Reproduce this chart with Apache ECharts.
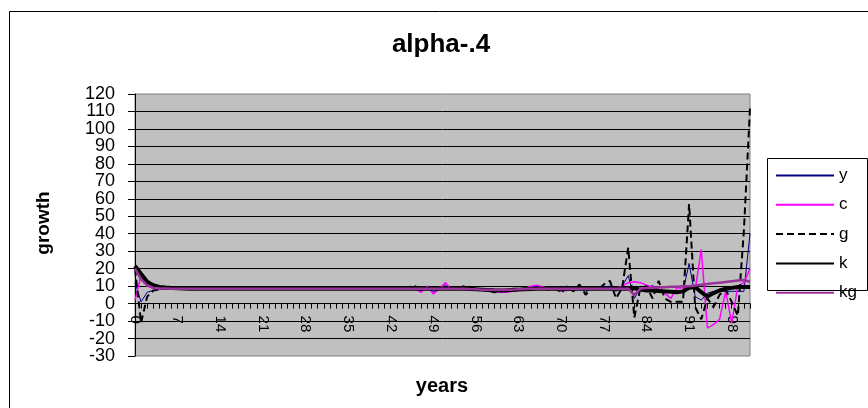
<!DOCTYPE html>
<html>
<head>
<meta charset="utf-8">
<script src="https://cdn.jsdelivr.net/npm/echarts@6/dist/echarts.min.js"></script>
<style>
  html, body { margin: 0; padding: 0; background: #fff; }
  #chart { width: 868px; height: 408px; }
</style>
</head>
<body>
<div id="chart"></div>
<script>
// Years on the category axis
const years = [
  0, 1, 2, 3, 4, 5, 6, 7, 8, 9,
  10, 11, 12, 13, 14, 15, 16, 17, 18, 19,
  20, 21, 22, 23, 24, 25, 26, 27, 28, 29,
  30, 31, 32, 33, 34, 35, 36, 37, 38, 39,
  40, 41, 42, 43, 44, 45, 46, 47, 48, 49,
  50, 51, 52, 53, 54, 55, 56, 57, 58, 59,
  60, 61, 62, 63, 64, 65, 66, 67, 68, 69,
  70, 71, 72, 73, 74, 75, 76, 77, 78, 79,
  80, 81, 82, 83, 84, 85, 86, 87, 88, 89,
  90, 91, 92, 93, 94, 95, 96, 97, 98, 99,
  100, 101
];

// Tick labels of the growth axis
const growthTicks = [-30, -20, -10, 0, 10, 20, 30, 40, 50, 60, 70, 80, 90, 100, 110, 120];

// Growth rates per series
const ySeries = [
  12, 1, 6.5, 7.5, 8, 8.3, 8.4, 8.5, 8.5, 8.5,
  8.5, 8.5, 8.5, 8.5, 8.5, 8.5, 8.5, 8.5, 8.5, 8.5,
  8.5, 8.5, 8.5, 8.5, 8.5, 8.5, 8.5, 8.5, 8.5, 8.5,
  8.5, 8.5, 8.5, 8.5, 8.5, 8.5, 8.5, 8.5, 8.5, 8.5,
  8.5, 8.5, 8.5, 8.5, 8.5, 8.8, 9, 7.5, 9.5, 6.5,
  8.5, 10.5, 8, 8.5, 9, 8.8, 8.3, 8, 7.8, 7.5,
  7.3, 7.5, 7.8, 8, 8.5, 9.5, 10, 9.5, 8.5, 9,
  7, 10, 7.5, 9.5, 6.5, 9, 8, 9.5, 10, 7,
  10, 16, 3, 9, 8, 10.5, 7, 6.5, 6.5, 6.5,
  7, 23, 4, 2, 6, 7, 7, 7, 7, 7,
  7, 40
];

const cSeries = [
  2, 16, 10, 8.8, 8.5, 8.4, 8.4, 8.4, 8.4, 8.4,
  8.4, 8.4, 8.4, 8.4, 8.4, 8.4, 8.4, 8.4, 8.4, 8.4,
  8.4, 8.4, 8.4, 8.4, 8.4, 8.4, 8.4, 8.4, 8.4, 8.4,
  8.4, 8.4, 8.4, 8.4, 8.4, 8.4, 8.4, 8.4, 8.4, 8.4,
  8.4, 8.4, 8.4, 8.4, 8.4, 8.5, 8.5, 6.5, 10, 5.5,
  8.5, 12, 8, 8.5, 8.5, 8.2, 8, 7.5, 7, 7,
  6.5, 6.5, 7, 7.5, 8.5, 10, 10.5, 9.5, 8.5, 8,
  7.5, 7.5, 8.5, 9, 8.5, 8, 8.5, 9, 8.5, 9,
  10, 12, 12.5, 12, 10.5, 9.5, 8.5, 6, 3, 9,
  9, 9.5, 8, 31, -14, -12, -9, 7, -11, 10,
  12, 20
];

const gSeries = [
  20, -11, 4, 7.5, 8.2, 8.4, 8.5, 8.5, 8.5, 8.5,
  8.5, 8.5, 8.5, 8.5, 8.5, 8.5, 8.5, 8.5, 8.5, 8.5,
  8.5, 8.5, 8.5, 8.5, 8.5, 8.5, 8.5, 8.5, 8.5, 8.5,
  8.5, 8.5, 8.5, 8.5, 8.5, 8.5, 8.5, 8.5, 8.5, 8.5,
  8.5, 8.5, 8.5, 8.5, 8.5, 9.5, 10, 8, 8.5, 8.5,
  8.5, 8.5, 8.5, 8.5, 10, 9.5, 8.5, 8, 7.5, 6.5,
  7, 8, 8.5, 8.5, 8.5, 8.5, 8.5, 8.5, 8, 9.5,
  6, 10, 7, 11, 5, 9, 8, 11, 13, 3,
  9, 32, -8, 9, 10, 3, 13, 3, 1, 1,
  1, 57, -2, -9, 3, -2, 5, 8, 1, -7,
  42, 112
];

const kSeries = [
  21.5, 17, 12.5, 10.5, 9.5, 9.2, 9, 8.8, 8.6, 8.5,
  8.5, 8.5, 8.5, 8.5, 8.5, 8.5, 8.5, 8.5, 8.5, 8.5,
  8.5, 8.5, 8.5, 8.5, 8.5, 8.5, 8.5, 8.5, 8.5, 8.5,
  8.5, 8.5, 8.5, 8.5, 8.5, 8.5, 8.5, 8.5, 8.5, 8.5,
  8.5, 8.5, 8.5, 8.5, 8.5, 8.5, 8.5, 8.5, 8.5, 8.5,
  8.5, 8.5, 8.5, 8.5, 8.5, 8.3, 8.2, 8, 7.8, 7.6,
  7.5, 7.6, 7.8, 8, 8.2, 8.4, 8.5, 8.5, 8.5, 8.5,
  8.5, 8.5, 8.5, 8.5, 8.5, 8.5, 8.5, 8.5, 8.5, 8.5,
  8.5, 8.5, 8.8, 8, 7.5, 7.5, 7.2, 7, 6.8, 6.5,
  7, 9, 9.5, 6.5, 4, 6, 7.5, 8.5, 9, 9.5,
  9.5, 9.5
];

const kgSeries = [
  20, 14, 10.5, 9, 8.7, 8.6, 8.5, 8.5, 8.5, 8.5,
  8.5, 8.5, 8.5, 8.5, 8.5, 8.5, 8.5, 8.5, 8.5, 8.5,
  8.5, 8.5, 8.5, 8.5, 8.5, 8.5, 8.5, 8.5, 8.5, 8.5,
  8.5, 8.5, 8.5, 8.5, 8.5, 8.5, 8.5, 8.5, 8.5, 8.5,
  8.5, 8.5, 8.5, 8.5, 8.5, 8.5, 8.5, 8.5, 8.5, 8.5,
  8.5, 8.5, 8.5, 8.5, 8.5, 8.3, 8.2, 8, 7.9, 7.8,
  7.8, 7.9, 8, 8.2, 8.3, 8.5, 8.5, 8.5, 8.5, 8.5,
  8.5, 8.5, 8.5, 8.5, 8.5, 8.5, 8.5, 8.5, 8.5, 8.5,
  8.5, 8.5, 5, 8.5, 9, 9.1, 9.3, 9.4, 9.6, 9.7,
  9.9, 10, 10.4, 10.8, 11.2, 11.6, 12, 12.4, 12.8, 13.2,
  13.5, 12.5
];

const seriesNames = ['y', 'c', 'g', 'k', 'kg'];

const FONT = '"Liberation Sans", Arial, sans-serif';
const GRID = { left: 135, top: 94, width: 615, height: 262 };

const chart = echarts.init(document.getElementById('chart'), null, { renderer: 'canvas' });

function lineSeries(name, data, lineStyle) {
  return {
    name: name,
    type: 'line',
    data: data,
    symbol: 'none',
    showSymbol: false,
    smooth: false,
    lineStyle: lineStyle,
    itemStyle: { color: lineStyle.color },
    emphasis: { disabled: true }
  };
}

const staticGraphics = [
  {
    type: 'rect',
    silent: true,
    z: 0,
    shape: { x: 9.5, y: 11.5, width: 900, height: 500 },
    style: { fill: 'none', stroke: '#000000', lineWidth: 1 }
  },
  {
    type: 'rect',
    silent: true,
    z: 1,
    shape: { x: 767.5, y: 158.5, width: 100, height: 132 },
    style: { fill: '#ffffff', stroke: '#000000', lineWidth: 1 }
  },
  {
    type: 'text',
    silent: true,
    x: 441,
    y: 45,
    style: {
      text: 'alpha-.4',
      font: 'bold 26px ' + FONT,
      fill: '#000000',
      align: 'center',
      verticalAlign: 'middle'
    }
  },
  {
    type: 'text',
    silent: true,
    x: 442,
    y: 386,
    style: {
      text: 'years',
      font: 'bold 20px ' + FONT,
      fill: '#000000',
      align: 'center',
      verticalAlign: 'middle'
    }
  },
  {
    type: 'text',
    silent: true,
    x: 44,
    y: 223,
    rotation: Math.PI / 2,
    style: {
      text: 'growth',
      font: 'bold 19px ' + FONT,
      fill: '#000000',
      align: 'center',
      verticalAlign: 'middle'
    }
  }
];

chart.setOption({
  animation: false,
  backgroundColor: '#ffffff',
  textStyle: { fontFamily: FONT },
  grid: {
    left: GRID.left,
    top: GRID.top,
    width: GRID.width,
    height: GRID.height,
    show: true,
    backgroundColor: '#c0c0c0',
    borderColor: '#808080',
    borderWidth: 1,
    containLabel: false,
    outerBoundsMode: 'none'
  },
  xAxis: {
    type: 'category',
    data: years,
    boundaryGap: false,
    offset: 0,
    axisLine: { show: true, onZero: false, lineStyle: { color: '#000000', width: 1 } },
    axisTick: { show: true, interval: 0, length: 5, inside: false, lineStyle: { color: '#000000', width: 1 } },
    axisLabel: {
      interval: 6,
      rotate: -90,
      margin: 12,
      fontSize: 15,
      color: '#000000',
      fontFamily: FONT,
      hideOverlap: false
    },
    splitLine: { show: false }
  },
  yAxis: {
    type: 'value',
    min: growthTicks[0],
    max: growthTicks[growthTicks.length - 1],
    interval: 10,
    axisLine: { show: true, lineStyle: { color: '#000000', width: 1 } },
    axisTick: { show: true, length: 7, inside: false, lineStyle: { color: '#000000', width: 1 } },
    axisLabel: { show: false },
    splitLine: {
      show: true,
      showMinLine: false,
      showMaxLine: false,
      lineStyle: { color: '#000000', width: 1 }
    }
  },
  legend: {
    data: seriesNames,
    orient: 'vertical',
    left: 775,
    top: 167,
    padding: 0,
    itemWidth: 58,
    itemHeight: 14,
    itemGap: 12.3,
    selectedMode: false,
    itemStyle: { opacity: 0 },
    textStyle: { fontSize: 17, color: '#000000', fontFamily: FONT }
  },
  graphic: staticGraphics,
  series: [
    lineSeries('y', ySeries, { color: '#000080', width: 1 }),
    lineSeries('c', cSeries, { color: '#ff00ff', width: 1.5 }),
    lineSeries('g', gSeries, { color: '#000000', width: 2, type: [7, 4] }),
    lineSeries('k', kSeries, { color: '#000000', width: 4 }),
    lineSeries('kg', kgSeries, { color: '#993399', width: 2.5 })
  ]
});

// The category axis (line, ticks and labels) sits on the value-axis zero line.
const zeroY = chart.convertToPixel({ yAxisIndex: 0 }, 0);
const gridBottom = GRID.top + GRID.height;

// Growth tick labels, placed through the value axis so every one is kept.
const tickLabels = growthTicks.map(function (v) {
  return {
    type: 'text',
    silent: true,
    x: GRID.left - 20,
    y: chart.convertToPixel({ yAxisIndex: 0 }, v),
    style: {
      text: String(v),
      font: '18px ' + FONT,
      fill: '#000000',
      align: 'right',
      verticalAlign: 'middle'
    }
  };
});

chart.setOption({
  xAxis: { offset: zeroY - gridBottom },
  graphic: staticGraphics.concat(tickLabels)
});
</script>
</body>
</html>
